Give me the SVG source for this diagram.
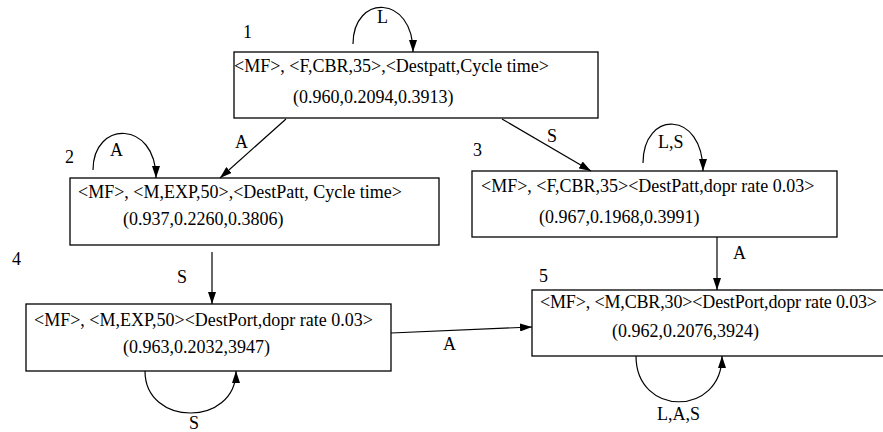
<svg xmlns="http://www.w3.org/2000/svg" width="883" height="432" viewBox="0 0 883 432" font-family="'Liberation Serif', 'Times New Roman', serif">
<defs>
<marker id="ah" viewBox="0 0 12 8" refX="12" refY="4" markerWidth="12" markerHeight="8" markerUnits="userSpaceOnUse" orient="auto">
<path d="M0,0 L12,4 L0,8 Z" fill="#000"/>
</marker>
<style>
text{font-family:"Liberation Serif","Times New Roman",serif;font-size:18px;fill:#000}
.box{fill:#fff;stroke:#000;stroke-width:1.3}
.edge{fill:none;stroke:#000;stroke-width:1.2;marker-end:url(#ah)}
</style>
</defs>
<rect width="883" height="432" fill="#fff"/>
<g id="node1">
<rect class="box" x="234" y="52" width="364" height="66"/>
<text x="234" y="72">&lt;MF&gt;, &lt;F,CBR,35&gt;,&lt;Destpatt,Cycle time&gt;</text>
<text x="293" y="103">(0.960,0.2094,0.3913)</text>
<text x="243" y="38">1</text>
</g>
<g id="node2">
<rect class="box" x="70" y="178" width="369" height="67"/>
<text x="78" y="198">&lt;MF&gt;, &lt;M,EXP,50&gt;,&lt;DestPatt, Cycle time&gt;</text>
<text x="123" y="225">(0.937,0.2260,0.3806)</text>
<text x="65" y="163">2</text>
</g>
<g id="node3">
<rect class="box" x="472" y="171" width="365" height="66"/>
<text x="481" y="192">&lt;MF&gt;, &lt;F,CBR,35&gt;&lt;DestPatt,dopr rate 0.03&gt;</text>
<text x="539" y="223">(0.967,0.1968,0.3991)</text>
<text x="473" y="156">3</text>
</g>
<g id="node4">
<rect class="box" x="26" y="304" width="365" height="67"/>
<text x="34" y="326">&lt;MF&gt;, &lt;M,EXP,50&gt;&lt;DestPort,dopr rate 0.03&gt;</text>
<text x="123" y="353">(0.963,0.2032,3947)</text>
<text x="12" y="265">4</text>
</g>
<g id="node5">
<rect class="box" x="532" y="290" width="370" height="66"/>
<text x="540" y="308" textLength="337" lengthAdjust="spacing">&lt;MF&gt;, &lt;M,CBR,30&gt;&lt;DestPort,dopr rate 0.03&gt;</text>
<text x="612" y="337">(0.962,0.2076,3924)</text>
<text x="539" y="282">5</text>
</g>
<g id="connectors">
<path class="edge" d="M353,44 C353,-6 413,-6 413,52"/>
<text x="377" y="23">L</text>
<path class="edge" d="M93,170 C93,120 156,120 156,178"/>
<text x="110" y="156">A</text>
<path class="edge" d="M643,163 C643,110 703,110 703,171"/>
<text x="658" y="148">L,S</text>
<path class="edge" d="M145,371 C145,427 236,427 236,371"/>
<text x="189" y="429">S</text>
<path class="edge" d="M636,356 C636,417 722,417 722,356"/>
<text x="657" y="420">L,A,S</text>
<path class="edge" d="M286,119 L220,178"/>
<text x="235" y="148">A</text>
<path class="edge" d="M502,119 L591,171"/>
<text x="547" y="142">S</text>
<path class="edge" d="M212,252 L212,304"/>
<text x="177" y="283">S</text>
<path class="edge" d="M717,237 L717,290"/>
<text x="733" y="259">A</text>
<path class="edge" d="M391,333 L532,327"/>
<text x="443" y="350">A</text>
</g>
</svg>
